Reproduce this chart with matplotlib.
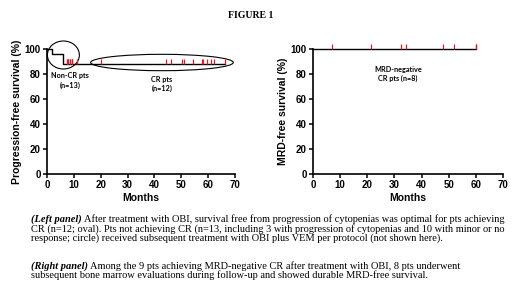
import numpy as np
import matplotlib
matplotlib.use("Agg")
from matplotlib import pyplot as plt
from matplotlib.patches import Ellipse

# --- data ---
# left panel: progression-free survival after OBI (25 pts, 3 progressions)
left_times = [2, 6, 6,
              7.3, 7.3, 7.9, 7.9, 8.6, 8.6, 9.2, 9.2, 9.2, 11.0,
              20.1, 44.2, 46.0, 50.1, 51.0, 54.5, 57.7, 58.2, 59.7, 61.1, 62.1, 66.3]
left_events = [1, 1, 1] + [0] * 22

# right panel: MRD-free survival, MRD-negative CR pts (n=8)
right_times = [6.9, 21.2, 32.3, 34.1, 48.0, 51.9, 59.9, 59.9]
right_events = [0] * 8

x_ticks = [0, 10, 20, 30, 40, 50, 60, 70]
y_ticks = [0, 20, 40, 60, 80, 100]

caption_left = [
    ("(Left panel)", " After treatment with OBI, survival free from progression of cytopenias was optimal for pts achieving"),
    ("", "CR (n=12; oval). Pts not achieving CR (n=13, including 3 with progression of cytopenias and 10 with minor or no"),
    ("", "response; circle) received subsequent treatment with OBI plus VEM per protocol (not shown here)."),
]
caption_right = [
    ("(Right panel)", " Among the 9 pts achieving MRD-negative CR after treatment with OBI, 8 pts underwent"),
    ("", "subsequent bone marrow evaluations during follow-up and showed durable MRD-free survival."),
]


def step_value(xs, ys, t):
    val = ys[0]
    for x, y in zip(xs, ys):
        if x <= t:
            val = y
    return val


def kaplan_meier(times, events):
    times = np.asarray(times, float)
    events = np.asarray(events)
    xs, ys = [0.0], [100.0]
    surv = 100.0
    at_risk = len(times)
    for t in np.unique(times):
        d = events[times == t].sum()
        if d > 0:
            xs.append(t); ys.append(surv)
            surv *= (at_risk - d) / at_risk
            xs.append(t); ys.append(surv)
        at_risk -= (times == t).sum()
    xs.append(times.max()); ys.append(surv)
    cens_x = times[events == 0]
    cens_y = [step_value(xs, ys, c) for c in cens_x]
    return xs, ys, cens_x, cens_y


sans = "Liberation Sans"
serif = "Liberation Serif"
note_font = "Lato"

fig = plt.figure(figsize=(5.2, 2.92), dpi=100)
W, H = 520, 292

ax_l = fig.add_axes([47 / W, 1 - 174 / H, 188 / W, 125 / H])
ax_r = fig.add_axes([313 / W, 1 - 174 / H, 190 / W, 125 / H])

tick_marker = [(0, 0), (0, 1)]

for ax, times, events, ylabel in [
    (ax_l, left_times, left_events, "Progression-free survival (%)"),
    (ax_r, right_times, right_events, "MRD-free survival (%)"),
]:
    xs, ys, cx, cy = kaplan_meier(times, events)
    ax.plot(xs, ys, color="black", lw=1.0, clip_on=False, zorder=3)
    ax.plot(cx, cy, linestyle="none", marker=tick_marker, markersize=7,
            markeredgewidth=0.9, color="#d0202a", clip_on=False, zorder=4)
    ax.set_xlim(0, 70)
    ax.set_ylim(0, 100)
    ax.set_xticks(x_ticks)
    ax.set_yticks(y_ticks)
    for s in ["top", "right"]:
        ax.spines[s].set_visible(False)
    for s in ["left", "bottom"]:
        ax.spines[s].set_linewidth(1.2)
    ax.tick_params(width=1.1, length=3, pad=1.5, labelsize=7)
    for lab in ax.get_xticklabels() + ax.get_yticklabels():
        lab.set_fontfamily(sans)
        lab.set_fontweight("bold")
    ax.set_xlabel("Months", fontsize=7.5, fontweight="bold", family=sans, labelpad=2)
    ax.set_ylabel(ylabel, fontsize=7.5, fontweight="bold", family=sans, labelpad=2)

# circle / oval on the left panel
ax_l.add_patch(Ellipse((6.1, 95.2), 11.9, 22.4, fill=False, lw=0.8, color="black", clip_on=False))
ax_l.add_patch(Ellipse((42.8, 89.2), 53.1, 13.1, fill=False, lw=0.8, color="black", clip_on=False))
ax_l.text(8.6, 75, "Non-CR pts\n(n=13)", ha="center", va="center", fontsize=5.2,
          family=note_font, fontweight="bold", linespacing=1.4)
ax_l.text(42.8, 72, "CR pts\n(n=12)", ha="center", va="center", fontsize=5.2,
          family=note_font, fontweight="bold", linespacing=1.4)
ax_r.text(31.3, 80, "MRD-negative\nCR pts (n=8)", ha="center", va="center", fontsize=5.2,
          family=note_font, fontweight="bold", linespacing=1.4)

fig.text(251 / W, 1 - 15 / H, "FIGURE 1", ha="center", va="center", fontsize=7,
         family=serif, fontweight="bold")

# caption, bold-italic lead-in followed by regular text
renderer = fig.canvas.get_renderer()
cap_size = 7.45
line_y = [219, 229, 238.5, 266, 275.5]
x0 = 31
for (lead, rest), y in zip(caption_left + caption_right, line_y):
    yy = 1 - y / H
    xx = x0 / W
    if lead:
        t = fig.text(xx, yy, lead, fontsize=cap_size, family=serif, fontweight="bold",
                     style="italic", va="center", ha="left")
        bb = t.get_window_extent(renderer)
        xx = bb.x1 / W
    fig.text(xx, yy, rest, fontsize=cap_size, family=serif, va="center", ha="left")

fig.savefig("out.png", dpi=100)
